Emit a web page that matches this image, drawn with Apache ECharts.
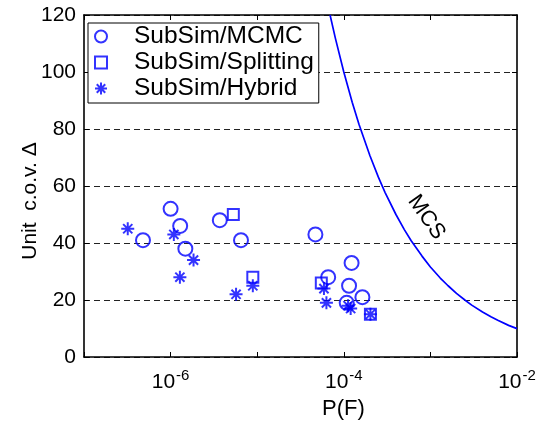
<!DOCTYPE html>
<html>
<head>
<meta charset="utf-8">
<script src="https://cdn.jsdelivr.net/npm/echarts@6/dist/echarts.min.js"></script>
<style>
html,body{margin:0;padding:0;background:#fff;}
#c{width:543px;height:429px;}
</style>
</head>
<body>
<div id="c"></div>
<script>
// ---- data ----
var mcmcP = [4.8e-7, 1.0e-6, 1.29e-6, 1.48e-6, 3.7e-6, 6.5e-6, 4.7e-5, 6.6e-5, 1.08e-4, 1.15e-4, 1.23e-4, 1.64e-4];
var mcmcD = [41, 52, 46, 38, 48, 41, 43, 28, 19, 25, 33, 21];

var splitP = [5.3e-6, 8.9e-6, 5.5e-5, 2.03e-4];
var splitD = [50, 28, 26, 15];

var hybridP = [3.2e-7, 1.09e-6, 1.28e-6, 1.84e-6, 5.7e-6, 8.9e-6, 5.9e-5, 6.3e-5, 1.12e-4, 1.2e-4, 2.03e-4];
var hybridD = [45, 43, 28, 34, 22, 25, 24, 19, 18, 17, 15];

var mcsP = [6.94e-5, 8e-5, 1e-4, 1.25e-4, 1.5e-4, 2e-4, 2.5e-4, 3e-4, 4e-4, 5e-4, 6e-4, 8e-4, 1e-3, 1.3e-3, 1.6e-3, 2e-3, 2.5e-3, 3e-3, 4e-3, 5e-3, 6e-3, 8e-3, 1e-2];
var mcsD = [120, 111.8, 100, 89.4, 81.6, 70.7, 63.2, 57.7, 50, 44.7, 40.8, 35.4, 31.6, 27.7, 25, 22.3, 20, 18.2, 15.8, 14.1, 12.9, 11.1, 9.95];

var seriesNames = ['SubSim/MCMC', 'SubSim/Splitting', 'SubSim/Hybrid'];
var xGridTicks = [1e-6, 1e-4];
var mcsLabel = 'MCS';
var mcsLabelAt = [9e-4, 49];
var yTitle = 'Unit  c.o.v. \u0394';
var xTitle = 'P(F)';

function pairs(a, b) { return a.map(function (v, i) { return [v, b[i]]; }); }

var FONT = '"Liberation Sans", Arial, Helvetica, sans-serif';
var BLUE = '#0000ff';
var STAR = 'path://M0,-10L0,10M-10,0L10,0M-7.07,-7.07L7.07,7.07M-7.07,7.07L7.07,-7.07';

var chart = echarts.init(document.getElementById('c'), null, {renderer: 'canvas'});

var axisLine = {show: true, onZero: false, lineStyle: {color: '#000', width: 1.6}};
var tick = {show: true, inside: true, length: 5, lineStyle: {color: '#000', width: 1}};

function xFmt(v) {
  var e = Math.round(Math.log10(v));
  if (e % 2 !== 0) return '';
  return '{b|10}{s|' + e + '}';
}

var option = {
  animation: false,
  backgroundColor: '#fff',
  textStyle: {fontFamily: FONT},
  grid: {left: 84, right: 26, top: 15, bottom: 72, containLabel: false},
  legend: {
    orient: 'vertical',
    left: 88, top: 23,
    data: seriesNames,
    backgroundColor: '#fff',
    borderColor: '#000', borderWidth: 1, borderRadius: 0,
    padding: [1, 5, 2, 6],
    itemWidth: 12, itemHeight: 12, itemGap: 1,
    textStyle: {fontFamily: FONT, fontSize: 24.5, color: '#000', lineHeight: 21, padding: [0, 0, 0, 22]}
  },
  xAxis: [{
    type: 'log', logBase: 10, min: 1e-7, max: 1e-2,
    position: 'bottom',
    name: xTitle, nameLocation: 'middle', nameGap: 41, nameMoveOverlap: false,
    nameTextStyle: {fontFamily: FONT, fontSize: 22, color: '#000', padding: [0, 0, 0, 86]},
    axisLine: axisLine, axisTick: tick, minorTick: {show: false},
    splitLine: {show: false},
    axisLabel: {
      show: true, margin: 11, color: '#000', formatter: xFmt, showMaxLabel: true,
      rich: {
        b: {fontFamily: FONT, fontSize: 21, color: '#000'},
        s: {fontFamily: FONT, fontSize: 15, color: '#000', verticalAlign: 'bottom', padding: [0, 0, 13, 1]}
      }
    }
  }, {
    type: 'log', logBase: 10, min: 1e-7, max: 1e-2,
    position: 'top',
    axisLine: axisLine, axisTick: tick, axisLabel: {show: false}, splitLine: {show: false}
  }],
  yAxis: [{
    type: 'value', min: 0, max: 120, interval: 20,
    position: 'left',
    name: yTitle, nameLocation: 'middle', nameGap: 43, nameMoveOverlap: false,
    nameTextStyle: {fontFamily: FONT, fontSize: 21, color: '#000', padding: [0, 30, 0, 0]},
    axisLine: axisLine, axisTick: tick,
    axisLabel: {margin: 8, color: '#000', fontFamily: FONT, fontSize: 21},
    splitLine: {show: true, lineStyle: {color: '#222', width: 1, type: [6, 4]}}
  }, {
    type: 'value', min: 0, max: 120, interval: 20,
    position: 'right',
    axisLine: axisLine, axisTick: tick, axisLabel: {show: false}, splitLine: {show: false}
  }],
  series: [
    {
      name: 'grid', type: 'line', data: [], z: 1, silent: true,
      markLine: {
        silent: true, symbol: ['none', 'none'], animation: false,
        label: {show: false},
        lineStyle: {color: '#222', width: 1, type: [6, 4]},
        data: xGridTicks.map(function (v) { return {xAxis: v}; })
      }
    },
    {
      name: 'MCS', type: 'line', data: pairs(mcsP, mcsD), z: 2,
      showSymbol: false, symbol: 'none', smooth: false,
      lineStyle: {color: BLUE, width: 1.7},
      markPoint: {
        symbol: 'circle', symbolSize: 1, itemStyle: {color: 'rgba(0,0,0,0)'},
        label: {show: true, formatter: mcsLabel, rotate: -55, fontFamily: FONT, fontSize: 22, color: '#000', position: 'inside'},
        data: [{coord: mcsLabelAt}]
      }
    },
    {
      name: seriesNames[0], type: 'scatter', data: pairs(mcmcP, mcmcD), z: 3,
      symbol: 'circle', symbolSize: 14,
      itemStyle: {color: 'rgba(0,0,0,0)', borderColor: BLUE, borderWidth: 2}
    },
    {
      name: seriesNames[1], type: 'scatter', data: pairs(splitP, splitD), z: 3,
      symbol: 'rect', symbolSize: 11,
      itemStyle: {color: 'rgba(0,0,0,0)', borderColor: BLUE, borderWidth: 2}
    },
    {
      name: seriesNames[2], type: 'scatter', data: pairs(hybridP, hybridD), z: 3,
      symbol: STAR, symbolSize: 13,
      itemStyle: {color: 'rgba(0,0,0,0)', borderColor: BLUE, borderWidth: 2}
    }
  ]
};
chart.setOption(option);
</script>
</body>
</html>
